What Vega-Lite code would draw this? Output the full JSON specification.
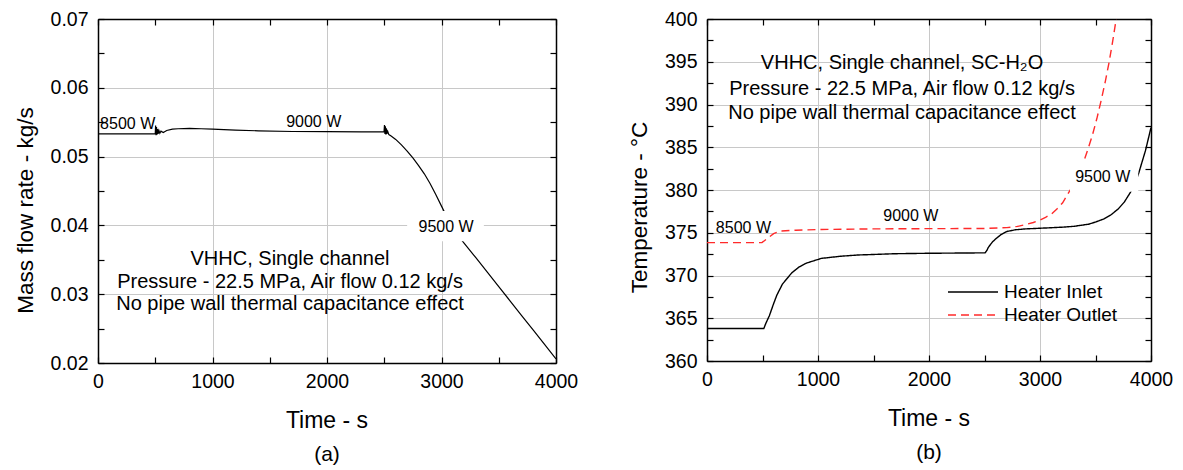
{
  "$schema": "https://vega.github.io/schema/vega-lite/v6.json",
  "padding": {"left": 14, "top": 9, "right": 5, "bottom": 5},
  "spacing": 50,
  "config": {
    "font": "Liberation Sans",
    "view": {"stroke": null},
    "axis": {
      "labelFont": "Liberation Sans",
      "titleFont": "Liberation Sans",
      "labelColor": "black",
      "titleColor": "black",
      "labelFontSize": 19.5,
      "titleFontSize": 22.5,
      "titleFontWeight": "normal",
      "domainColor": "black",
      "domainWidth": 1.5,
      "tickColor": "black",
      "tickWidth": 1.2,
      "tickSize": -6,
      "labelOverlap": false,
      "labelFlush": false,
      "gridColor": "#c8c8c8",
      "gridWidth": 1
    },
    "text": {"font": "Liberation Sans", "color": "black"}
  },
  "datasets": {
    "flow": [
      {"t": 0, "m": 0.0533}, {"t": 250, "m": 0.0533}, {"t": 500, "m": 0.0533},
      {"t": 503, "m": 0.0545}, {"t": 507, "m": 0.0531}, {"t": 511, "m": 0.0543},
      {"t": 515, "m": 0.0532}, {"t": 520, "m": 0.054}, {"t": 525, "m": 0.0533},
      {"t": 532, "m": 0.0538}, {"t": 540, "m": 0.0534}, {"t": 550, "m": 0.0537},
      {"t": 570, "m": 0.0535}, {"t": 600, "m": 0.0538}, {"t": 650, "m": 0.054},
      {"t": 700, "m": 0.05405}, {"t": 800, "m": 0.0541}, {"t": 900, "m": 0.05405},
      {"t": 1000, "m": 0.054}, {"t": 1200, "m": 0.05385}, {"t": 1400, "m": 0.05375},
      {"t": 1700, "m": 0.05365}, {"t": 2000, "m": 0.05362}, {"t": 2300, "m": 0.0536},
      {"t": 2498, "m": 0.0536}, {"t": 2502, "m": 0.0546}, {"t": 2506, "m": 0.0533},
      {"t": 2510, "m": 0.0544}, {"t": 2514, "m": 0.0532}, {"t": 2518, "m": 0.0541},
      {"t": 2523, "m": 0.0533}, {"t": 2530, "m": 0.0537}, {"t": 2540, "m": 0.0532},
      {"t": 2560, "m": 0.053}, {"t": 2600, "m": 0.0525}, {"t": 2650, "m": 0.0517},
      {"t": 2700, "m": 0.0508}, {"t": 2750, "m": 0.0498}, {"t": 2800, "m": 0.0487},
      {"t": 2850, "m": 0.0475}, {"t": 2900, "m": 0.0461}, {"t": 2950, "m": 0.0445},
      {"t": 3000, "m": 0.0428}, {"t": 3050, "m": 0.0411}, {"t": 3100, "m": 0.0396},
      {"t": 3183, "m": 0.0377}, {"t": 3300, "m": 0.0353}, {"t": 3400, "m": 0.0332},
      {"t": 3500, "m": 0.0311}, {"t": 3600, "m": 0.029}, {"t": 3700, "m": 0.0269},
      {"t": 3800, "m": 0.0248}, {"t": 3900, "m": 0.0227}, {"t": 4000, "m": 0.0206}
    ],
    "temp": [
      {"series": "Heater Inlet", "t": 0, "T": 363.8},
      {"series": "Heater Inlet", "t": 250, "T": 363.8},
      {"series": "Heater Inlet", "t": 512, "T": 363.8},
      {"series": "Heater Inlet", "t": 530, "T": 364.4},
      {"series": "Heater Inlet", "t": 562, "T": 365.3},
      {"series": "Heater Inlet", "t": 600, "T": 366.7},
      {"series": "Heater Inlet", "t": 629, "T": 367.7},
      {"series": "Heater Inlet", "t": 680, "T": 369.0},
      {"series": "Heater Inlet", "t": 763, "T": 370.3},
      {"series": "Heater Inlet", "t": 830, "T": 371.0},
      {"series": "Heater Inlet", "t": 896, "T": 371.45},
      {"series": "Heater Inlet", "t": 1030, "T": 372.0},
      {"series": "Heater Inlet", "t": 1200, "T": 372.25},
      {"series": "Heater Inlet", "t": 1365, "T": 372.4},
      {"series": "Heater Inlet", "t": 1700, "T": 372.55},
      {"series": "Heater Inlet", "t": 2000, "T": 372.6},
      {"series": "Heater Inlet", "t": 2505, "T": 372.65},
      {"series": "Heater Inlet", "t": 2520, "T": 372.9},
      {"series": "Heater Inlet", "t": 2535, "T": 373.3},
      {"series": "Heater Inlet", "t": 2570, "T": 373.9},
      {"series": "Heater Inlet", "t": 2602, "T": 374.3},
      {"series": "Heater Inlet", "t": 2650, "T": 374.8},
      {"series": "Heater Inlet", "t": 2702, "T": 375.15},
      {"series": "Heater Inlet", "t": 2780, "T": 375.35},
      {"series": "Heater Inlet", "t": 2870, "T": 375.45},
      {"series": "Heater Inlet", "t": 3037, "T": 375.55},
      {"series": "Heater Inlet", "t": 3200, "T": 375.65},
      {"series": "Heater Inlet", "t": 3304, "T": 375.75},
      {"series": "Heater Inlet", "t": 3438, "T": 376.0},
      {"series": "Heater Inlet", "t": 3500, "T": 376.25},
      {"series": "Heater Inlet", "t": 3572, "T": 376.6},
      {"series": "Heater Inlet", "t": 3640, "T": 377.1},
      {"series": "Heater Inlet", "t": 3706, "T": 377.8},
      {"series": "Heater Inlet", "t": 3760, "T": 378.6},
      {"series": "Heater Inlet", "t": 3823, "T": 379.9},
      {"series": "Heater Inlet", "t": 3860, "T": 380.9},
      {"series": "Heater Inlet", "t": 3890, "T": 382.0},
      {"series": "Heater Inlet", "t": 3950, "T": 384.6},
      {"series": "Heater Inlet", "t": 4000, "T": 387.3},
      {"series": "Heater Outlet", "t": 0, "T": 373.85},
      {"series": "Heater Outlet", "t": 250, "T": 373.85},
      {"series": "Heater Outlet", "t": 495, "T": 373.85},
      {"series": "Heater Outlet", "t": 520, "T": 374.1},
      {"series": "Heater Outlet", "t": 560, "T": 374.5},
      {"series": "Heater Outlet", "t": 600, "T": 374.9},
      {"series": "Heater Outlet", "t": 662, "T": 375.2},
      {"series": "Heater Outlet", "t": 800, "T": 375.3},
      {"series": "Heater Outlet", "t": 1030, "T": 375.38},
      {"series": "Heater Outlet", "t": 1500, "T": 375.45},
      {"series": "Heater Outlet", "t": 2000, "T": 375.48},
      {"series": "Heater Outlet", "t": 2502, "T": 375.5},
      {"series": "Heater Outlet", "t": 2702, "T": 375.6},
      {"series": "Heater Outlet", "t": 2800, "T": 375.75},
      {"series": "Heater Outlet", "t": 2870, "T": 375.95},
      {"series": "Heater Outlet", "t": 2940, "T": 376.2},
      {"series": "Heater Outlet", "t": 3003, "T": 376.5},
      {"series": "Heater Outlet", "t": 3050, "T": 376.8},
      {"series": "Heater Outlet", "t": 3104, "T": 377.2},
      {"series": "Heater Outlet", "t": 3150, "T": 377.75},
      {"series": "Heater Outlet", "t": 3204, "T": 378.5},
      {"series": "Heater Outlet", "t": 3254, "T": 379.6},
      {"series": "Heater Outlet", "t": 3300, "T": 380.6},
      {"series": "Heater Outlet", "t": 3350, "T": 381.9},
      {"series": "Heater Outlet", "t": 3388, "T": 383.1},
      {"series": "Heater Outlet", "t": 3430, "T": 384.7},
      {"series": "Heater Outlet", "t": 3472, "T": 386.4},
      {"series": "Heater Outlet", "t": 3515, "T": 388.5},
      {"series": "Heater Outlet", "t": 3555, "T": 390.7},
      {"series": "Heater Outlet", "t": 3590, "T": 392.8},
      {"series": "Heater Outlet", "t": 3622, "T": 394.9},
      {"series": "Heater Outlet", "t": 3655, "T": 397.4},
      {"series": "Heater Outlet", "t": 3690, "T": 400.3}
    ],
    "boxA": [{"x1": 2700, "x2": 3370, "y1": 0.0377, "y2": 0.0421}],
    "boxB": [{"x1": 3270, "x2": 3885, "y1": 379.8, "y2": 383.2}],
    "labelsA": [
      {"t": 259, "v": 0.0548, "label": "8500 W"},
      {"t": 1884, "v": 0.0551, "label": "9000 W"},
      {"t": 3040, "v": 0.0398, "label": "9500 W"}
    ],
    "labelsB": [
      {"t": 328, "v": 375.6, "label": "8500 W"},
      {"t": 1836, "v": 377.0, "label": "9000 W"},
      {"t": 3565, "v": 381.5, "label": "9500 W"}
    ],
    "notesA": [
      {"t": 1677, "v": 0.0351, "label": "VHHC, Single channel"},
      {"t": 1677, "v": 0.0318, "label": "Pressure - 22.5 MPa, Air flow 0.12 kg/s"},
      {"t": 1677, "v": 0.0286, "label": "No pipe wall thermal capacitance effect"}
    ],
    "notesB": [
      {"t": 1757, "v": 394.8, "label": "VHHC, Single channel, SC-H₂O"},
      {"t": 1757, "v": 391.85, "label": "Pressure - 22.5 MPa, Air flow 0.12 kg/s"},
      {"t": 1757, "v": 389.05, "label": "No pipe wall thermal capacitance effect"}
    ]
  },
  "hconcat": [
    {
      "width": 458,
      "height": 344,
      "title": {"text": "Time - s", "subtitle": "(a)", "orient": "bottom", "fontSize": 23, "fontWeight": "normal", "font": "Liberation Sans", "color": "black", "subtitleFont": "Liberation Sans", "subtitleFontSize": 21, "subtitleColor": "black", "subtitlePadding": 11, "offset": 19},
      "resolve": {"axis": {"x": "independent", "y": "independent"}},
      "layer": [
        {
          "data": {"name": "flow"},
          "mark": {"type": "line", "color": "black", "strokeWidth": 1.2, "clip": true},
          "encoding": {
            "x": {"field": "t", "type": "quantitative", "scale": {"domain": [0, 4000], "nice": false},
              "axis": {"orient": "bottom", "title": null, "values": [0, 500, 1000, 1500, 2000, 2500, 3000, 3500, 4000], "format": "d", "labelExpr": "datum.value % 1000 === 0 ? datum.label : ''", "labelPadding": 15, "grid": true, "gridOpacity": {"condition": {"test": "datum.value % 1000 === 0", "value": 1}, "value": 0}}},
            "y": {"field": "m", "type": "quantitative", "scale": {"domain": [0.02, 0.07], "nice": false, "zero": false},
              "axis": {"orient": "left", "title": "Mass flow rate - kg/s", "titlePadding": 13, "titleY": 191, "values": [0.02, 0.025, 0.03, 0.035, 0.04, 0.045, 0.05, 0.055, 0.06, 0.065, 0.07], "format": ".2f", "labelExpr": "abs(datum.value*100 - round(datum.value*100)) < 1e-6 ? datum.label : ''", "labelPadding": 16, "grid": true, "gridOpacity": {"condition": {"test": "abs(datum.value*100 - round(datum.value*100)) < 1e-6", "value": 1}, "value": 0}}}
          }
        },
        {
          "data": {"name": "boxA"},
          "mark": {"type": "rect", "color": "white"},
          "encoding": {
            "x": {"field": "x1", "type": "quantitative", "axis": null},
            "x2": {"field": "x2"},
            "y": {"field": "y1", "type": "quantitative", "axis": null},
            "y2": {"field": "y2"}
          }
        },
        {
          "data": {"name": "labelsA"},
          "mark": {"type": "text", "fontSize": 16, "baseline": "middle", "align": "center"},
          "encoding": {
            "x": {"field": "t", "type": "quantitative", "axis": null},
            "y": {"field": "v", "type": "quantitative", "axis": null},
            "text": {"field": "label"}
          }
        },
        {
          "data": {"name": "notesA"},
          "mark": {"type": "text", "fontSize": 20, "baseline": "middle", "align": "center"},
          "encoding": {
            "x": {"field": "t", "type": "quantitative",
              "axis": {"orient": "top", "title": null, "labels": false, "grid": false, "values": [0, 500, 1000, 1500, 2000, 2500, 3000, 3500, 4000]}},
            "y": {"field": "v", "type": "quantitative",
              "axis": {"orient": "right", "title": null, "labels": false, "grid": false, "values": [0.02, 0.025, 0.03, 0.035, 0.04, 0.045, 0.05, 0.055, 0.06, 0.065, 0.07]}},
            "text": {"field": "label"}
          }
        }
      ]
    },
    {
      "width": 444,
      "height": 342,
      "title": {"text": "Time - s", "subtitle": "(b)", "orient": "bottom", "fontSize": 23, "fontWeight": "normal", "font": "Liberation Sans", "color": "black", "subtitleFont": "Liberation Sans", "subtitleFontSize": 21, "subtitleColor": "black", "subtitlePadding": 11, "offset": 19},
      "resolve": {"axis": {"x": "independent", "y": "independent"}},
      "layer": [
        {
          "data": {"name": "temp"},
          "mark": {"type": "line", "strokeWidth": 1.4, "clip": true},
          "encoding": {
            "x": {"field": "t", "type": "quantitative", "scale": {"domain": [0, 4000], "nice": false},
              "axis": {"orient": "bottom", "title": null, "values": [0, 500, 1000, 1500, 2000, 2500, 3000, 3500, 4000], "format": "d", "labelExpr": "datum.value % 1000 === 0 ? datum.label : ''", "labelPadding": 15, "grid": true, "gridOpacity": {"condition": {"test": "datum.value % 1000 === 0", "value": 1}, "value": 0}}},
            "y": {"field": "T", "type": "quantitative", "scale": {"domain": [360, 400], "nice": false, "zero": false},
              "axis": {"orient": "left", "title": "Temperature - °C", "titlePadding": 13, "titleY": 188, "values": [360, 362.5, 365, 367.5, 370, 372.5, 375, 377.5, 380, 382.5, 385, 387.5, 390, 392.5, 395, 397.5, 400], "format": "d", "labelExpr": "datum.value % 5 === 0 ? datum.label : ''", "labelPadding": 16, "grid": true, "gridOpacity": {"condition": {"test": "datum.value % 5 === 0", "value": 1}, "value": 0}}},
            "color": {"field": "series", "type": "nominal", "scale": {"domain": ["Heater Inlet", "Heater Outlet"], "range": ["black", "#ff2a2a"]},
              "legend": {"orient": "none", "legendX": 864, "legendY": 262, "title": null, "symbolType": "M-2.5,0H2.5", "symbolSize": 400, "symbolStrokeWidth": 1.5, "labelFontSize": 19, "labelFont": "Liberation Sans", "labelColor": "black", "labelOffset": 20, "padding": 0, "rowPadding": 2, "labelLimit": 0}},
            "strokeDash": {"field": "series", "type": "nominal", "scale": {"domain": ["Heater Inlet", "Heater Outlet"], "range": [[1, 0], [8, 5]]},
              "legend": {"orient": "none", "legendX": 864, "legendY": 262, "title": null, "symbolType": "M-2.5,0H2.5", "symbolSize": 400, "symbolStrokeWidth": 1.5, "labelFontSize": 19, "labelFont": "Liberation Sans", "labelColor": "black", "labelOffset": 20, "padding": 0, "rowPadding": 2, "labelLimit": 0}}
          }
        },
        {
          "data": {"name": "boxB"},
          "mark": {"type": "rect", "color": "white"},
          "encoding": {
            "x": {"field": "x1", "type": "quantitative", "axis": null},
            "x2": {"field": "x2"},
            "y": {"field": "y1", "type": "quantitative", "axis": null},
            "y2": {"field": "y2"}
          }
        },
        {
          "data": {"name": "labelsB"},
          "mark": {"type": "text", "fontSize": 16, "baseline": "middle", "align": "center"},
          "encoding": {
            "x": {"field": "t", "type": "quantitative", "axis": null},
            "y": {"field": "v", "type": "quantitative", "axis": null},
            "text": {"field": "label"}
          }
        },
        {
          "data": {"name": "notesB"},
          "mark": {"type": "text", "fontSize": 20, "baseline": "middle", "align": "center"},
          "encoding": {
            "x": {"field": "t", "type": "quantitative",
              "axis": {"orient": "top", "title": null, "labels": false, "grid": false, "values": [0, 500, 1000, 1500, 2000, 2500, 3000, 3500, 4000]}},
            "y": {"field": "v", "type": "quantitative",
              "axis": {"orient": "right", "title": null, "labels": false, "grid": false, "values": [360, 362.5, 365, 367.5, 370, 372.5, 375, 377.5, 380, 382.5, 385, 387.5, 390, 392.5, 395, 397.5, 400]}},
            "text": {"field": "label"}
          }
        }
      ]
    }
  ]
}
